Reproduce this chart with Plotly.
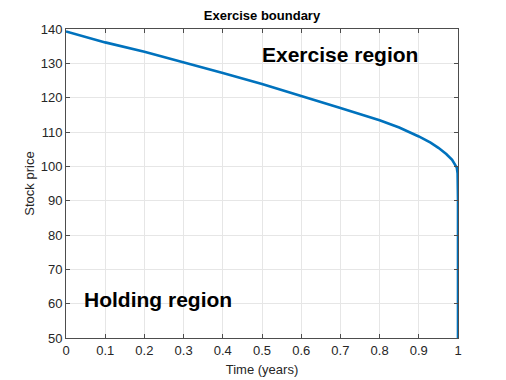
import plotly.graph_objects as go

# exercise boundary
time = [0.0, 0.05, 0.1, 0.2, 0.3, 0.4, 0.5, 0.6, 0.7, 0.8, 0.85, 0.9, 0.93, 0.95, 0.97, 0.985, 0.993, 0.997, 0.999, 1.0, 1.0]
price = [139.3, 137.8, 136.1, 133.4, 130.4, 127.2, 124.0, 120.6, 117.0, 113.4, 111.3, 108.7, 106.9, 105.4, 103.6, 101.9, 100.6, 99.6, 98.0, 90.0, 50.0]

xticks = [0, 0.1, 0.2, 0.3, 0.4, 0.5, 0.6, 0.7, 0.8, 0.9, 1]
xticklabels = ["0", "0.1", "0.2", "0.3", "0.4", "0.5", "0.6", "0.7", "0.8", "0.9", "1"]
yticks = [50, 60, 70, 80, 90, 100, 110, 120, 130, 140]

font = "Liberation Sans, Arial, Helvetica, sans-serif"
axcol = "#4d4d4d"

fig = go.Figure()
fig.add_trace(go.Scatter(
    x=time, y=price, mode="lines",
    line=dict(color="#0072BD", width=2.6),
    showlegend=False,
))

fig.add_annotation(x=0.495, y=132.7, text="<b>Exercise region</b>", showarrow=False,
                   xanchor="left", yanchor="middle",
                   font=dict(family=font, size=21, color="black"))
fig.add_annotation(x=0.04, y=61.1, text="<b>Holding region</b>", showarrow=False,
                   xanchor="left", yanchor="middle",
                   font=dict(family=font, size=21, color="black"))

axis_common = dict(
    showgrid=True, gridcolor="#e6e6e6", gridwidth=1,
    showline=True, linecolor=axcol, linewidth=1, mirror="ticks",
    ticks="inside", ticklen=4, tickcolor=axcol,
    tickfont=dict(family=font, size=13, color="#262626"),
    zeroline=False, automargin=False,
)

fig.update_layout(
    width=506, height=380,
    margin=dict(l=66, r=48, t=29, b=42),
    paper_bgcolor="white", plot_bgcolor="white",
    title=dict(text="<b>Exercise boundary</b>", x=0.5, xanchor="center",
               xref="paper", y=1 - 15 / 380, yanchor="middle",
               font=dict(family=font, size=13, color="black")),
    xaxis=dict(range=[0, 1], tickvals=xticks, ticktext=xticklabels,
               title=dict(text="Time (years)", standoff=8,
                          font=dict(family=font, size=13, color="#262626")),
               **axis_common),
    yaxis=dict(range=[50, 140], tickvals=yticks,
               title=dict(text="Stock price", standoff=3,
                          font=dict(family=font, size=13, color="#262626")),
               **axis_common),
)

fig.write_html("out.html", config={"displayModeBar": False},
               post_script="document.body.style.margin='0';")
